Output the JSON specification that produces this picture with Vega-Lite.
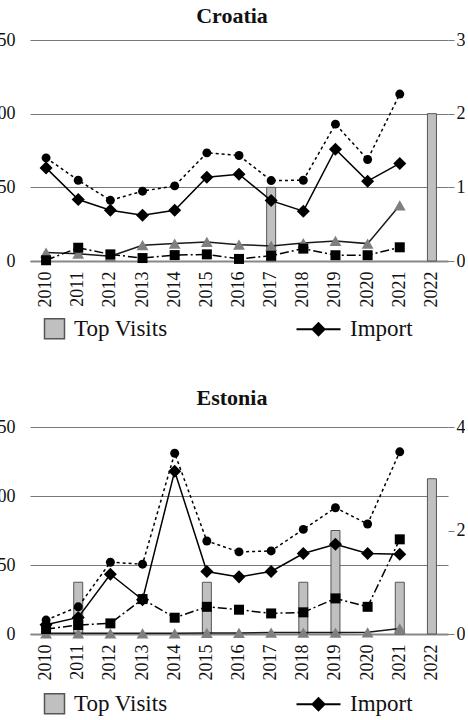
{
  "$schema": "https://vega.github.io/schema/vega-lite/v6.json",
  "padding": {"left": -12, "top": 5, "right": 0, "bottom": 0},
  "background": "white",
  "config": {
    "view": {"stroke": null},
    "font": "Liberation Serif",
    "axis": {"labelFont": "Liberation Serif", "labelFontSize": 18, "labelColor": "#111", "title": null},
    "legend": {"labelFont": "Liberation Serif"}
  },
  "datasets": {
    "rows": [
      {"country": "Croatia", "year": "2010", "series": "Total", "value": 70},
      {"country": "Croatia", "year": "2011", "series": "Total", "value": 54.8},
      {"country": "Croatia", "year": "2012", "series": "Total", "value": 41.2},
      {"country": "Croatia", "year": "2013", "series": "Total", "value": 47.4},
      {"country": "Croatia", "year": "2014", "series": "Total", "value": 51},
      {"country": "Croatia", "year": "2015", "series": "Total", "value": 73.4},
      {"country": "Croatia", "year": "2016", "series": "Total", "value": 71.6},
      {"country": "Croatia", "year": "2017", "series": "Total", "value": 54.6},
      {"country": "Croatia", "year": "2018", "series": "Total", "value": 54.8},
      {"country": "Croatia", "year": "2019", "series": "Total", "value": 92.9},
      {"country": "Croatia", "year": "2020", "series": "Total", "value": 68.9},
      {"country": "Croatia", "year": "2021", "series": "Total", "value": 113.3},
      {"country": "Croatia", "year": "2010", "series": "Import", "value": 63.2},
      {"country": "Croatia", "year": "2011", "series": "Import", "value": 41.7},
      {"country": "Croatia", "year": "2012", "series": "Import", "value": 34.4},
      {"country": "Croatia", "year": "2013", "series": "Import", "value": 31},
      {"country": "Croatia", "year": "2014", "series": "Import", "value": 34.4},
      {"country": "Croatia", "year": "2015", "series": "Import", "value": 56.9},
      {"country": "Croatia", "year": "2016", "series": "Import", "value": 58.9},
      {"country": "Croatia", "year": "2017", "series": "Import", "value": 41},
      {"country": "Croatia", "year": "2018", "series": "Import", "value": 33.8},
      {"country": "Croatia", "year": "2019", "series": "Import", "value": 75.9},
      {"country": "Croatia", "year": "2020", "series": "Import", "value": 54.2},
      {"country": "Croatia", "year": "2021", "series": "Import", "value": 66.2},
      {"country": "Croatia", "year": "2010", "series": "Other", "value": 5.7},
      {"country": "Croatia", "year": "2011", "series": "Other", "value": 5},
      {"country": "Croatia", "year": "2012", "series": "Other", "value": 3.2},
      {"country": "Croatia", "year": "2013", "series": "Other", "value": 10.7},
      {"country": "Croatia", "year": "2014", "series": "Other", "value": 11.8},
      {"country": "Croatia", "year": "2015", "series": "Other", "value": 12.9},
      {"country": "Croatia", "year": "2016", "series": "Other", "value": 11.1},
      {"country": "Croatia", "year": "2017", "series": "Other", "value": 10.2},
      {"country": "Croatia", "year": "2018", "series": "Other", "value": 12.2},
      {"country": "Croatia", "year": "2019", "series": "Other", "value": 13.6},
      {"country": "Croatia", "year": "2020", "series": "Other", "value": 11.8},
      {"country": "Croatia", "year": "2021", "series": "Other", "value": 37.8},
      {"country": "Croatia", "year": "2010", "series": "Export", "value": 0.5},
      {"country": "Croatia", "year": "2011", "series": "Export", "value": 9},
      {"country": "Croatia", "year": "2012", "series": "Export", "value": 4.5},
      {"country": "Croatia", "year": "2013", "series": "Export", "value": 2},
      {"country": "Croatia", "year": "2014", "series": "Export", "value": 4},
      {"country": "Croatia", "year": "2015", "series": "Export", "value": 4.5},
      {"country": "Croatia", "year": "2016", "series": "Export", "value": 1.4},
      {"country": "Croatia", "year": "2017", "series": "Export", "value": 3.6},
      {"country": "Croatia", "year": "2018", "series": "Export", "value": 8.4},
      {"country": "Croatia", "year": "2019", "series": "Export", "value": 3.9},
      {"country": "Croatia", "year": "2020", "series": "Export", "value": 3.9},
      {"country": "Croatia", "year": "2021", "series": "Export", "value": 9.3},
      {"country": "Croatia", "year": "2017", "series": "Top Visits", "value": 1},
      {"country": "Croatia", "year": "2022", "series": "Top Visits", "value": 2},
      {"country": "Estonia", "year": "2010", "series": "Total", "value": 10.1},
      {"country": "Estonia", "year": "2011", "series": "Total", "value": 19.7},
      {"country": "Estonia", "year": "2012", "series": "Total", "value": 52},
      {"country": "Estonia", "year": "2013", "series": "Total", "value": 50.6},
      {"country": "Estonia", "year": "2014", "series": "Total", "value": 131},
      {"country": "Estonia", "year": "2015", "series": "Total", "value": 67.4},
      {"country": "Estonia", "year": "2016", "series": "Total", "value": 59.5},
      {"country": "Estonia", "year": "2017", "series": "Total", "value": 60.2},
      {"country": "Estonia", "year": "2018", "series": "Total", "value": 75.8},
      {"country": "Estonia", "year": "2019", "series": "Total", "value": 91.5},
      {"country": "Estonia", "year": "2020", "series": "Total", "value": 79.7},
      {"country": "Estonia", "year": "2021", "series": "Total", "value": 132},
      {"country": "Estonia", "year": "2010", "series": "Import", "value": 6.7},
      {"country": "Estonia", "year": "2011", "series": "Import", "value": 12},
      {"country": "Estonia", "year": "2012", "series": "Import", "value": 43.3},
      {"country": "Estonia", "year": "2013", "series": "Import", "value": 24.8},
      {"country": "Estonia", "year": "2014", "series": "Import", "value": 118},
      {"country": "Estonia", "year": "2015", "series": "Import", "value": 45.3},
      {"country": "Estonia", "year": "2016", "series": "Import", "value": 41.4},
      {"country": "Estonia", "year": "2017", "series": "Import", "value": 45.3},
      {"country": "Estonia", "year": "2018", "series": "Import", "value": 58.3},
      {"country": "Estonia", "year": "2019", "series": "Import", "value": 65},
      {"country": "Estonia", "year": "2020", "series": "Import", "value": 58.3},
      {"country": "Estonia", "year": "2021", "series": "Import", "value": 57.8},
      {"country": "Estonia", "year": "2010", "series": "Other", "value": 0.5},
      {"country": "Estonia", "year": "2011", "series": "Other", "value": 0.5},
      {"country": "Estonia", "year": "2012", "series": "Other", "value": 0.5},
      {"country": "Estonia", "year": "2013", "series": "Other", "value": 0.5},
      {"country": "Estonia", "year": "2014", "series": "Other", "value": 0.5},
      {"country": "Estonia", "year": "2015", "series": "Other", "value": 0.8},
      {"country": "Estonia", "year": "2016", "series": "Other", "value": 0.8},
      {"country": "Estonia", "year": "2017", "series": "Other", "value": 1},
      {"country": "Estonia", "year": "2018", "series": "Other", "value": 1},
      {"country": "Estonia", "year": "2019", "series": "Other", "value": 1},
      {"country": "Estonia", "year": "2020", "series": "Other", "value": 1.2},
      {"country": "Estonia", "year": "2021", "series": "Other", "value": 4},
      {"country": "Estonia", "year": "2010", "series": "Export", "value": 3.6},
      {"country": "Estonia", "year": "2011", "series": "Export", "value": 6.5},
      {"country": "Estonia", "year": "2012", "series": "Export", "value": 7.7},
      {"country": "Estonia", "year": "2013", "series": "Export", "value": 25.3},
      {"country": "Estonia", "year": "2014", "series": "Export", "value": 11.8},
      {"country": "Estonia", "year": "2015", "series": "Export", "value": 19.7},
      {"country": "Estonia", "year": "2016", "series": "Export", "value": 17.6},
      {"country": "Estonia", "year": "2017", "series": "Export", "value": 14.9},
      {"country": "Estonia", "year": "2018", "series": "Export", "value": 15.7},
      {"country": "Estonia", "year": "2019", "series": "Export", "value": 25.8},
      {"country": "Estonia", "year": "2020", "series": "Export", "value": 19.7},
      {"country": "Estonia", "year": "2021", "series": "Export", "value": 68.6},
      {"country": "Estonia", "year": "2011", "series": "Top Visits", "value": 1},
      {"country": "Estonia", "year": "2015", "series": "Top Visits", "value": 1},
      {"country": "Estonia", "year": "2018", "series": "Top Visits", "value": 1},
      {"country": "Estonia", "year": "2019", "series": "Top Visits", "value": 2},
      {"country": "Estonia", "year": "2021", "series": "Top Visits", "value": 1},
      {"country": "Estonia", "year": "2022", "series": "Top Visits", "value": 3}
    ]
  },
  "data": {"name": "rows"},
  "spacing": 45,
  "resolve": {"scale": {"color": "independent"}, "legend": {"color": "independent"}},
  "vconcat": [
    {
      "title": {"text": "Croatia", "fontSize": 22, "font": "Liberation Serif", "fontWeight": "bold", "anchor": "middle", "offset": 3, "color": "#111", "dx": -7},
      "width": 418,
      "height": 221,
      "transform": [{"filter": "datum.country === 'Croatia'"}],
      "encoding": {
        "x": {"field": "year", "type": "ordinal",
          "scale": {"domain": ["2010","2011","2012","2013","2014","2015","2016","2017","2018","2019","2020","2021","2022"], "paddingInner": 0, "paddingOuter": 0},
          "axis": {"labelFont": "Liberation Serif", "labelFontSize": 18, "labelAngle": -90, "ticks": false, "domain": true, "domainColor": "#888", "domainWidth": 2, "labelPadding": 10, "labelBaseline": "middle", "labelAlign": "right"}}
      },
      "layer": [
        {
          "transform": [{"filter": "datum.series === 'Top Visits'"}],
          "mark": {"type": "bar", "size": 9, "stroke": "#555", "strokeWidth": 1},
          "encoding": {
            "y": {"field": "value", "type": "quantitative", "scale": {"domain": [0, 3]},
              "axis": {"labelFont": "Liberation Serif", "labelFontSize": 18, "orient": "right", "values": [0, 1, 2, 3], "grid": false, "ticks": true, "tickSize": 6, "tickColor": "#777", "domain": false, "labelPadding": 2}},
            "color": {"field": "series", "type": "nominal", "scale": {"domain": ["Top Visits", "Import"], "range": ["#c0c0c0", "#000000"]},
              "legend": {"orient": "none", "legendX": 13, "legendY": 277, "direction": "horizontal", "title": null, "padding": 0,
                "columnPadding": 124, "symbolSize": 400, "labelFont": "Liberation Serif", "labelFontSize": 23, "labelOffset": 8, "labelColor": "#111", "symbolStrokeWidth": 1.5, "symbolStrokeColor": "#555",
                "encode": {"symbols": {"update": {
                  "shape": {"signal": "datum.value === 'Import' ? 'M-3.4,0H1M-1.2,-0.6L-0.6,0L-1.2,0.6L-1.8,0Z' : 'square'"},
                  "stroke": {"signal": "datum.value === 'Import' ? '#000' : '#555'"},
                  "strokeWidth": {"signal": "datum.value === 'Import' ? 2 : 1.5"}}}}}}
          }
        },
        {
          "encoding": {
            "y": {"field": "value", "type": "quantitative", "scale": {"domain": [0, 150]},
              "axis": {"labelFont": "Liberation Serif", "labelFontSize": 18, "orient": "left", "values": [0, 50, 100, 150], "grid": true, "gridColor": "#777", "ticks": false, "domain": false, "labelPadding": 15}}
          },
          "layer": [
            {"transform": [{"filter": "datum.series === 'Total'"}],
             "mark": {"type": "line", "color": "#000", "strokeWidth": 1.5, "strokeDash": [3, 3], "point": {"shape": "circle", "size": 80, "filled": true, "color": "#000", "opacity": 1}}},
            {"transform": [{"filter": "datum.series === 'Other'"}],
             "mark": {"type": "line", "color": "#1a1a1a", "strokeWidth": 1.5, "point": {"shape": "triangle-up", "size": 140, "filled": true, "color": "#7f7f7f", "opacity": 1}}},
            {"transform": [{"filter": "datum.series === 'Export'"}],
             "mark": {"type": "line", "color": "#000", "strokeWidth": 1.5, "strokeDash": [9, 3, 2, 3], "point": {"shape": "square", "size": 100, "filled": true, "color": "#000", "opacity": 1}}},
            {"transform": [{"filter": "datum.series === 'Import'"}],
             "mark": {"type": "line", "color": "#000", "strokeWidth": 1.5, "point": {"shape": "diamond", "size": 170, "filled": true, "color": "#000", "opacity": 1}}}
          ]
        }
      ],
      "resolve": {"scale": {"y": "independent"}}
    },
    {
      "title": {"text": "Estonia", "fontSize": 22, "font": "Liberation Serif", "fontWeight": "bold", "anchor": "middle", "offset": 8, "color": "#111", "dx": -7},
      "width": 418,
      "height": 207,
      "transform": [{"filter": "datum.country === 'Estonia'"}],
      "encoding": {
        "x": {"field": "year", "type": "ordinal",
          "scale": {"domain": ["2010","2011","2012","2013","2014","2015","2016","2017","2018","2019","2020","2021","2022"], "paddingInner": 0, "paddingOuter": 0},
          "axis": {"labelFont": "Liberation Serif", "labelFontSize": 18, "labelAngle": -90, "ticks": false, "domain": true, "domainColor": "#888", "domainWidth": 2, "labelPadding": 10, "labelBaseline": "middle", "labelAlign": "right"}}
      },
      "layer": [
        {
          "transform": [{"filter": "datum.series === 'Top Visits'"}],
          "mark": {"type": "bar", "size": 9, "stroke": "#555", "strokeWidth": 1},
          "encoding": {
            "y": {"field": "value", "type": "quantitative", "scale": {"domain": [0, 4]},
              "axis": {"labelFont": "Liberation Serif", "labelFontSize": 18, "orient": "right", "values": [0, 2, 4], "grid": false, "ticks": true, "tickSize": 6, "tickColor": "#777", "domain": false, "labelPadding": 2}},
            "color": {"field": "series", "type": "nominal", "scale": {"domain": ["Top Visits", "Import"], "range": ["#c0c0c0", "#000000"]},
              "legend": {"orient": "none", "legendX": 13, "legendY": 265, "direction": "horizontal", "title": null, "padding": 0,
                "columnPadding": 124, "symbolSize": 400, "labelFont": "Liberation Serif", "labelFontSize": 23, "labelOffset": 8, "labelColor": "#111", "symbolStrokeWidth": 1.5, "symbolStrokeColor": "#555",
                "encode": {"symbols": {"update": {
                  "shape": {"signal": "datum.value === 'Import' ? 'M-3.4,0H1M-1.2,-0.6L-0.6,0L-1.2,0.6L-1.8,0Z' : 'square'"},
                  "stroke": {"signal": "datum.value === 'Import' ? '#000' : '#555'"},
                  "strokeWidth": {"signal": "datum.value === 'Import' ? 2 : 1.5"}}}}}}
          }
        },
        {
          "encoding": {
            "y": {"field": "value", "type": "quantitative", "scale": {"domain": [0, 150]},
              "axis": {"labelFont": "Liberation Serif", "labelFontSize": 18, "orient": "left", "values": [0, 50, 100, 150], "grid": true, "gridColor": "#777", "ticks": false, "domain": false, "labelPadding": 15}}
          },
          "layer": [
            {"transform": [{"filter": "datum.series === 'Total'"}],
             "mark": {"type": "line", "color": "#000", "strokeWidth": 1.5, "strokeDash": [3, 3], "point": {"shape": "circle", "size": 80, "filled": true, "color": "#000", "opacity": 1}}},
            {"transform": [{"filter": "datum.series === 'Other'"}],
             "mark": {"type": "line", "color": "#1a1a1a", "strokeWidth": 1.5, "point": {"shape": "triangle-up", "size": 140, "filled": true, "color": "#7f7f7f", "opacity": 1}}},
            {"transform": [{"filter": "datum.series === 'Export'"}],
             "mark": {"type": "line", "color": "#000", "strokeWidth": 1.5, "strokeDash": [9, 3, 2, 3], "point": {"shape": "square", "size": 100, "filled": true, "color": "#000", "opacity": 1}}},
            {"transform": [{"filter": "datum.series === 'Import'"}],
             "mark": {"type": "line", "color": "#000", "strokeWidth": 1.5, "point": {"shape": "diamond", "size": 170, "filled": true, "color": "#000", "opacity": 1}}}
          ]
        }
      ],
      "resolve": {"scale": {"y": "independent"}}
    }
  ]
}
